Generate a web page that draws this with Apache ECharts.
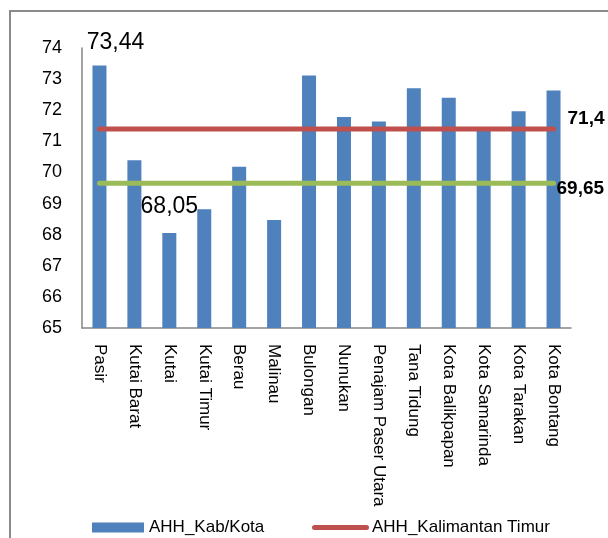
<!DOCTYPE html>
<html>
<head>
<meta charset="utf-8">
<script src="https://cdn.jsdelivr.net/npm/echarts@6/dist/echarts.min.js"></script>
<style>
  html, body { margin: 0; padding: 0; background: #fff; }
  #chart { width: 608px; height: 538px; }
</style>
</head>
<body>
<div id="chart"></div>
<script>
// Angka Harapan Hidup (AHH) per kabupaten/kota, Kalimantan Timur
const regions = [
  'Pasir', 'Kutai Barat', 'Kutai', 'Kutai Timur', 'Berau', 'Malinau',
  'Bulongan', 'Nunukan', 'Penajam Paser Utara', 'Tana Tidung',
  'Kota Balikpapan', 'Kota Samarinda', 'Kota Tarakan', 'Kota Bontang'
];
const ahhKabKota = [
  73.44, 70.39, 68.05, 68.82, 70.18, 68.47,
  73.12, 71.78, 71.64, 72.71,
  72.40, 71.36, 71.97, 72.63
];
const ahhKaltim = 71.4;
const ahhNasional = 69.65;
const yTicks = [65, 66, 67, 68, 69, 70, 71, 72, 73, 74];

// Only the highest and the lowest regency carry a value label
const labelledBars = {
  'Pasir': { offset: [16, -6] },
  'Kutai': { offset: [0, -10] }
};

const FONT = '"Liberation Sans", Arial, sans-serif';
const fmt = v => String(v).replace('.', ',');

const barData = regions.map((r, i) => {
  const item = { value: ahhKabKota[i] };
  if (labelledBars[r]) {
    item.label = {
      show: true, position: 'top', offset: labelledBars[r].offset,
      fontSize: 23, fontFamily: FONT, color: '#000',
      formatter: p => fmt(p.value)
    };
  }
  return item;
});

// Horizontal reference level across all regions, labelled at its right end
function levelSeries(name, value, color, offset) {
  return {
    name: name,
    type: 'line',
    data: regions.map(() => value),
    symbol: 'none',
    lineStyle: { color: color, width: 5, cap: 'round' },
    itemStyle: { color: color },
    endLabel: {
      show: true, distance: 5, offset: offset,
      fontSize: 19, fontWeight: 'bold', fontFamily: FONT, color: '#000',
      formatter: p => fmt(p.value)
    },
    z: 3
  };
}

const chart = echarts.init(document.getElementById('chart'), null, { renderer: 'canvas' });
chart.setOption({
  animation: false,
  backgroundColor: '#fff',
  textStyle: { fontFamily: FONT },
  graphic: [{
    type: 'rect', silent: true, z: -1,
    shape: { x: 10, y: 11, width: 640, height: 580 },
    style: { fill: 'none', stroke: '#8a8a8a', lineWidth: 2 }
  }],
  grid: { left: 82, top: 48, width: 489, height: 280, containLabel: false },
  legend: [{
    data: [{ name: 'AHH_Kab/Kota', icon: 'rect' }],
    left: 92, top: 519, padding: 0,
    itemWidth: 52, itemHeight: 10,
    textStyle: { fontSize: 17, fontFamily: FONT, color: '#000' }
  }, {
    data: [{ name: 'AHH_Kalimantan Timur',
             icon: 'path://M2.5,0 H54.5 A2.5,2.5 0 0 1 54.5,5 H2.5 A2.5,2.5 0 0 1 2.5,0 Z' }],
    left: 312, top: 519, padding: 0,
    itemWidth: 57, itemHeight: 5,
    textStyle: { fontSize: 17, fontFamily: FONT, color: '#000', padding: [0, 0, 0, -2] }
  }],
  xAxis: {
    type: 'category',
    data: regions,
    boundaryGap: true,
    axisLine: { show: true, lineStyle: { color: '#868686', width: 1.5 } },
    axisTick: { show: false },
    axisLabel: { rotate: -90, margin: 16, fontSize: 17, fontFamily: FONT, color: '#000', interval: 0 }
  },
  yAxis: {
    type: 'value',
    min: yTicks[0], max: yTicks[yTicks.length - 1], interval: 1,
    axisLine: { show: true, lineStyle: { color: '#868686', width: 1.5 } },
    axisTick: { show: false },
    splitLine: { show: false },
    axisLabel: { margin: 20, fontSize: 18, fontFamily: FONT, color: '#000' }
  },
  series: [
    {
      name: 'AHH_Kab/Kota',
      type: 'bar',
      data: barData,
      barWidth: 14,
      itemStyle: { color: '#4F81BD' }
    },
    levelSeries('AHH_Kalimantan Timur', ahhKaltim, '#C0504D', [9, -10]),
    levelSeries('AHH_Nasional', ahhNasional, '#9BBB59', [-2, 5])
  ]
});
</script>
</body>
</html>
